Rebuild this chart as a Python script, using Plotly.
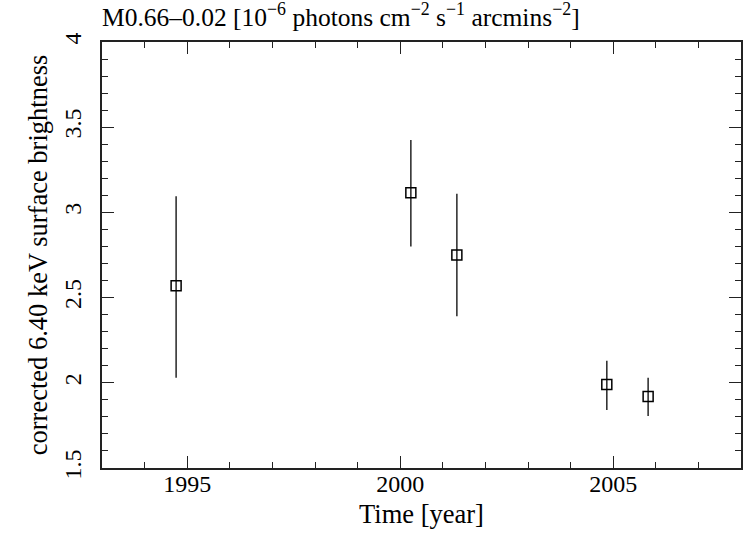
import plotly.graph_objects as go

years = [1994.74, 2000.25, 2001.33, 2004.85, 2005.82]
values = [2.57, 3.115, 2.75, 1.99, 1.92]
err_hi = [3.095, 3.425, 3.11, 2.13, 2.03]
err_lo = [2.03, 2.80, 2.39, 1.84, 1.805]

x_ticks = [1995, 2000, 2005]
y_ticks = [1.5, 2, 2.5, 3, 3.5, 4]

plus = [h - v for h, v in zip(err_hi, values)]
minus = [v - l for v, l in zip(values, err_lo)]

FONT = "Liberation Serif"

fig = go.Figure()
fig.add_trace(go.Scatter(
    x=years, y=values, mode="markers",
    marker=dict(symbol="square-open", size=10, color="black", line=dict(width=1.5, color="black")),
    error_y=dict(type="data", symmetric=False, array=plus, arrayminus=minus,
                 thickness=1.6, width=0, color="#333333"),
    showlegend=False,
))

fig.update_layout(
    width=745, height=534,
    margin=dict(l=102, r=2, t=42, b=66),
    paper_bgcolor="white", plot_bgcolor="white",
    font=dict(family=FONT, size=24, color="black"),
    title=dict(text="M0.66–0.02 [10<sup>−6</sup> photons cm<sup>−2</sup> s<sup>−1</sup> arcmins<sup>−2</sup>]",
               x=0, xref="paper", xanchor="left", y=1 - 17 / 534, yref="container", yanchor="middle",
               font=dict(family=FONT, size=25.5, color="black")),
    xaxis=dict(range=[1993, 2008], tickvals=x_ticks, ticks="inside", ticklen=12, tickwidth=1.3,
               tickcolor="#222", showline=True, linecolor="#222", linewidth=1.5, mirror="ticks",
               showgrid=False, zeroline=False, ticklabelstandoff=-7,
               minor=dict(dtick=1, tick0=1993, ticks="inside", ticklen=6, tickwidth=1.3, tickcolor="#222", showgrid=False),
               title=dict(text="Time [year]", standoff=9, font=dict(family=FONT, size=26.5)),
               tickfont=dict(family=FONT, size=24)),
    yaxis=dict(range=[1.5, 4], tickvals=y_ticks, ticktext=["1.5", "2", "2.5", "3", "3.5", "4"],
               ticks="inside", ticklen=12, tickwidth=1.3, tickcolor="#222",
               showline=True, linecolor="#222", linewidth=1.5, mirror="ticks",
               showgrid=False, zeroline=False, tickangle=-90, ticklabelstandoff=10,
               minor=dict(dtick=0.1, tick0=1.5, ticks="inside", ticklen=6, tickwidth=1.3, tickcolor="#222", showgrid=False),
               title=dict(text="corrected 6.40 keV surface brightness", standoff=4, font=dict(family=FONT, size=26.5)),
               tickfont=dict(family=FONT, size=24)),
)

fig.write_html("out.html")
